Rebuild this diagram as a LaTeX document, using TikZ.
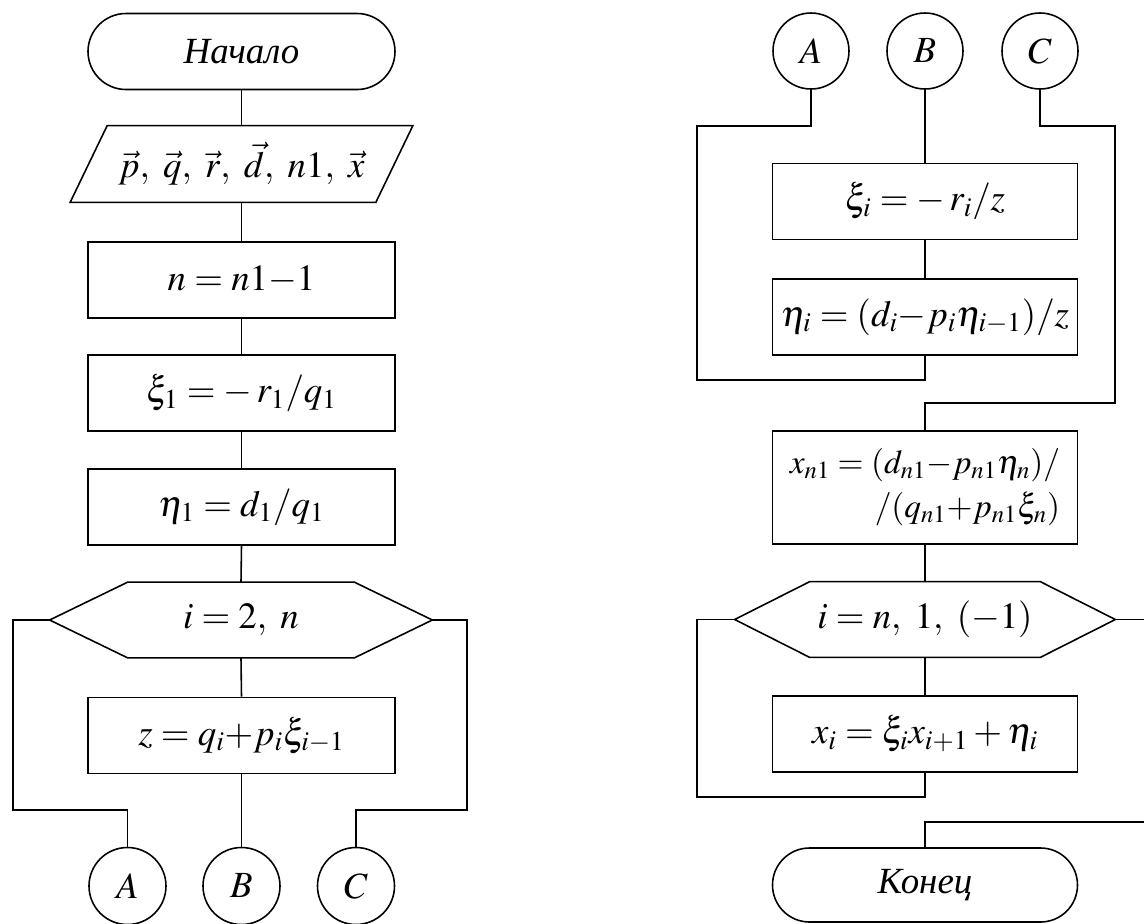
\documentclass[tikz,border=0pt]{standalone}
\usepackage{mathptmx}
\usepackage[no-math]{fontspec}
\setmainfont{Liberation Serif}
\usetikzlibrary{calc}
\tikzset{
  base/.style={font=\fontsize{21}{27}\selectfont, inner sep=0pt},
  ln/.style={line width=0.9pt, line join=miter},
  blk/.style={base, draw, ln, minimum width=6.14cm, minimum height=1.52cm},
  rblk/.style={blk, minimum width=6.1cm},
  term/.style={blk, rounded corners=0.76cm},
  conn/.style={base, draw, ln, circle, minimum size=1.54cm},
  hexbox/.style={base, minimum height=1.5cm}
}
\begin{document}
\begin{tikzpicture}
\useasboundingbox (0,0) rectangle (22.88,-18.46);
% ---------- left column ----------
\node[term] (start) at (4.83,-1.03) {\textit{Начало}};
\node[base, minimum width=6.84cm, minimum height=1.52cm] (io) at (4.83,-3.28)
  {$\vec{p},\ \vec{q},\ \vec{r},\ \vec{d},\ n1,\ \vec{x}$};
\draw[ln] ([xshift=0.74cm]io.north west) -- (io.north east)
  -- ([xshift=-0.74cm]io.south east) -- (io.south west) -- cycle;
\node[blk] (n) at (4.83,-5.6) {$n = n1{-}1$};
\node[blk] (xi1) at (4.83,-7.86) {$\xi_1 = -\,r_1/q_1$};
\node[blk] (eta1) at (4.83,-10.14) {$\eta_1 = d_1/q_1$};
\node[hexbox, minimum width=7.64cm] (h1) at (4.82,-12.4) {$i = 2,\ n$};
\draw[ln] (h1.west) -- ([xshift=1.56cm]h1.north west) -- ([xshift=-1.56cm]h1.north east)
  -- (h1.east) -- ([xshift=-1.56cm]h1.south east) -- ([xshift=1.56cm]h1.south west) -- cycle;
\node[blk] (z) at (4.83,-14.71) {$z = q_i{+}p_i\xi_{i-1}$};
\node[conn] (lA) at (2.55,-17.72) {$A$};
\node[conn] (lB) at (4.83,-17.72) {$B$};
\node[conn] (lC) at (7.12,-17.72) {$C$};
\coordinate (lL) at (0.26,-16.2);
\coordinate (lR) at (9.34,-16.2);
\draw[ln] (start.south) -- (io.north);
\draw[ln] (io.south) -- (n.north);
\draw[ln] (n.south) -- (xi1.north);
\draw[ln] (xi1.south) -- (eta1.north);
\draw[ln] (eta1.south) -- (h1.north);
\draw[ln] (h1.south) -- (z.north);
\draw[ln] (z.south) -- (lB.north);
\draw[ln] (h1.west) -| (lL) -| (lA.north);
\draw[ln] (h1.east) -| (lR) -| (lC.north);
% ---------- right column ----------
\node[conn, minimum size=1.52cm] (rA) at (16.22,-1.02) {$A$};
\node[conn, minimum size=1.52cm] (rB) at (18.5,-1.02) {$B$};
\node[conn, minimum size=1.52cm] (rC) at (20.8,-1.02) {$C$};
\node[rblk] (xi) at (18.5,-4.03) {$\xi_i = -\,r_i/z$};
\node[rblk] (eta) at (18.5,-6.34) {$\eta_i = (d_i{-}p_i\eta_{i-1})/z$};
\node[rblk, minimum height=2.26cm, align=right, font=\fontsize{19}{25}\selectfont] (xn) at (18.5,-9.75)
  {$x_{n1} = (d_{n1}{-}p_{n1}\eta_n)/$\\ $/(q_{n1}{+}p_{n1}\xi_n)$};
\node[hexbox, minimum width=7.6cm] (h2) at (18.5,-12.39) {$i = n,\ 1,\ (-1)$};
\draw[ln] (h2.west) -- ([xshift=1.5cm]h2.north west) -- ([xshift=-1.5cm]h2.north east)
  -- (h2.east) -- ([xshift=-1.5cm]h2.south east) -- ([xshift=1.5cm]h2.south west) -- cycle;
\node[rblk] (xi2) at (18.5,-14.68) {$x_i = \xi_i x_{i+1} + \eta_i$};
\node[rblk, rounded corners=0.74cm, minimum height=1.48cm] (stop) at (18.5,-17.7) {\textit{Конец}};
\coordinate (a1) at (13.94,-2.52);
\coordinate (a2) at (13.94,-7.6);
\coordinate (c1) at (22.3,-2.52);
\coordinate (c2) at (22.3,-8.06);
\coordinate (d1) at (13.94,-15.94);
\coordinate (e1) at (22.88,-12.39);
\coordinate (e2) at (22.88,-16.44);
\draw[ln] (rA.south) |- (a1) -- (a2) -| (eta.south);
\draw[ln] (rB.south) -- (xi.north);
\draw[ln] (xi.south) -- (eta.north);
\draw[ln] (rC.south) |- (c1) -- (c2) -| (xn.north);
\draw[ln] (xn.south) -- (h2.north);
\draw[ln] (h2.south) -- (xi2.north);
\draw[ln] (h2.west) -| (d1) -| (xi2.south);
\draw[ln] (h2.east) -- (e1);
\draw[ln] (e2) -| (stop.north);
\end{tikzpicture}
\end{document}
